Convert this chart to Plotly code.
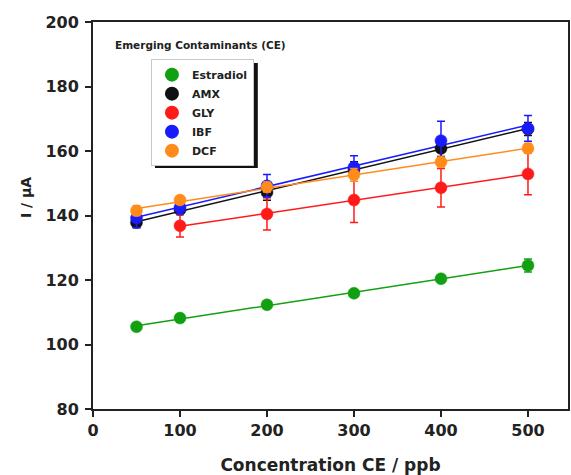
import numpy as np
import plotly.graph_objects as go

conc_all = [50, 100, 200, 300, 400, 500]
conc_gly = [100, 200, 300, 400, 500]

estradiol = [105.5, 108.2, 112.3, 115.9, 120.4, 124.5]
estradiol_err = [0.8, 1.0, 1.0, 0.8, 1.0, 2.0]
amx = [137.8, 141.8, 147.2, 154.2, 160.8, 166.8]
amx_err = [1.5, 1.5, 2.5, 2.5, 2.5, 2.0]
gly = [136.8, 140.5, 144.8, 148.6, 152.9]
gly_err = [3.5, 5.0, 7.0, 6.0, 6.5]
ibf = [139.2, 142.5, 149.2, 155.0, 163.2, 167.0]
ibf_err = [3.0, 2.0, 3.5, 3.5, 6.0, 4.0]
dcf = [141.5, 144.8, 148.8, 152.6, 156.6, 160.8]
dcf_err = [1.5, 1.0, 1.5, 2.0, 1.5, 1.5]

series_names = ["Estradiol", "AMX", "GLY", "IBF", "DCF"]
series_x = [conc_all, conc_all, conc_gly, conc_all, conc_all]
series_y = [estradiol, amx, gly, ibf, dcf]
series_err = [estradiol_err, amx_err, gly_err, ibf_err, dcf_err]
colors = ["#12a012", "#111111", "#ff1a1a", "#1a1aff", "#ff8c1a"]

FONT = "DejaVu Sans, Arial, sans-serif"
TXT = "#222222"

fig = go.Figure()
# linear calibration fits (computed from the data)
for xs, ys, col in zip(series_x, series_y, colors):
    k, b = np.polyfit(xs, ys, 1)
    xe = [xs[0], xs[-1]]
    fig.add_trace(go.Scatter(x=xe, y=[k * v + b for v in xe], mode="lines",
                             line=dict(color=col, width=1.5), showlegend=False,
                             hoverinfo="skip"))
for name, xs, ys, es, col in zip(series_names, series_x, series_y, series_err, colors):
    fig.add_trace(go.Scatter(
        x=xs, y=ys, name=name, mode="markers",
        marker=dict(color=col, size=12, line=dict(color=col, width=0.5)),
        error_y=dict(type="data", array=es, visible=True, color=col, thickness=1.5, width=4),
    ))

fig.update_layout(
    width=571, height=475,
    margin=dict(l=93, r=3, t=22, b=66),
    paper_bgcolor="white", plot_bgcolor="white",
    font=dict(family=FONT, color=TXT, size=12),
    showlegend=True,
    legend=dict(
        x=0.122, y=0.904, xanchor="left", yanchor="top",
        bgcolor="white", bordercolor="#c8c8c8", borderwidth=1,
        font=dict(size=11, family=FONT, color=TXT, weight="bold"),
        tracegroupgap=0, itemsizing="constant",
    ),
    xaxis=dict(
        range=[0, 546], tickmode="array", tickvals=[0, 100, 200, 300, 400, 500],
        ticks="outside", ticklen=6, tickwidth=1.5, tickcolor=TXT,
        showline=True, linecolor=TXT, linewidth=2, mirror=True,
        showgrid=False, zeroline=False, automargin=False,
        tickfont=dict(size=16, family=FONT, weight="bold"),
        title=dict(text="Concentration CE / ppb", font=dict(size=17, family=FONT, weight="bold"), standoff=20),
    ),
    yaxis=dict(
        range=[80, 200], tickmode="array", tickvals=[80, 100, 120, 140, 160, 180, 200],
        ticks="outside", ticklen=6, tickwidth=1.5, tickcolor=TXT,
        showline=True, linecolor=TXT, linewidth=2, mirror=True,
        showgrid=False, zeroline=False, automargin=False, ticklabelstandoff=3,
        tickfont=dict(size=16, family=FONT, weight="bold"),
    ),
    shapes=[dict(
        type="rect", xref="paper", yref="paper", layer="above",
        x0=0.1305, x1=0.347, y0=0.6227, y1=0.894,
        fillcolor="#111111", line=dict(width=0),
    )],
    annotations=[
        dict(text="Emerging Contaminants (CE)", xref="paper", yref="paper",
             x=0.042, y=0.9406, xanchor="left", yanchor="middle", showarrow=False,
             font=dict(size=10.5, color=TXT, family=FONT, weight="bold")),
        dict(text="I / μA", xref="paper", yref="paper", textangle=-90,
             x=-0.141, y=0.545, xanchor="center", yanchor="middle", showarrow=False,
             font=dict(size=14, color=TXT, family=FONT, weight="bold")),
    ],
)
fig.write_html("out.html", config={"displayModeBar": False},
               post_script="document.body.style.margin='0';")
